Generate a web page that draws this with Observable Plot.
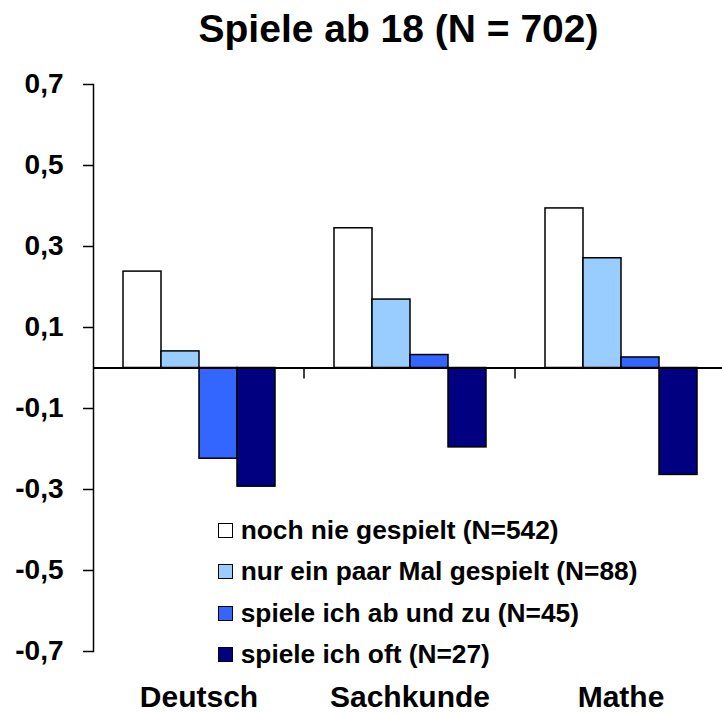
<!DOCTYPE html>
<html>
<head>
<meta charset="utf-8">
<script src="https://cdn.jsdelivr.net/npm/d3@7"></script>
<script src="https://cdn.jsdelivr.net/npm/@observablehq/plot@0.6"></script>
<style>
  body { margin: 0; background: #fff; font-family: "Liberation Sans", Arial, sans-serif; }
  #wrap { position: relative; width: 722px; height: 713px; overflow: hidden; background: #fff; }
  #title { height: 58px; line-height: 58px; font-size: 39px; font-weight: bold; text-align: center; padding-left: 75px; box-sizing: border-box; width: 722px; color: #000; white-space: nowrap; }
  #legend { position: absolute; left: 218px; top: 510px; }
  .row { height: 41.3px; display: flex; align-items: center; }
  .sw { width: 15px; height: 15px; border: 1px solid #000; box-sizing: border-box; margin-right: 7.7px; flex: none; }
  .lab { font-size: 26.3px; font-weight: bold; white-space: nowrap; color: #000; }
</style>
</head>
<body>
<div id="wrap">
  <div id="title">Spiele ab 18 (N = 702)</div>
  <div id="chart"></div>
  <div id="legend"></div>
</div>
<script>
// ---- data ----
const subjects = ["Deutsch", "Sachkunde", "Mathe"];
const seriesNames = [
  "noch nie gespielt (N=542)",
  "nur ein paar Mal gespielt (N=88)",
  "spiele ich ab und zu (N=45)",
  "spiele ich oft (N=27)"
];
const seriesColors = ["#FFFFFF", "#99CCFF", "#3366FF", "#000080"];
const nieGespieltValues   = [0.238, 0.345, 0.394];
const paarMalValues       = [0.041, 0.169, 0.271];
const abUndZuValues       = [-0.224, 0.032, 0.026];
const oftValues           = [-0.293, -0.196, -0.264];
const yTicks = [-0.7, -0.5, -0.3, -0.1, 0.1, 0.3, 0.5, 0.7];

const seriesValues = [nieGespieltValues, paarMalValues, abUndZuValues, oftValues];
const data = [];
subjects.forEach((s, i) => {
  seriesNames.forEach((n, j) => {
    data.push({subject: s, series: n, value: seriesValues[j][i]});
  });
});

const fmt = d => d.toFixed(1).replace(".", ",");

const chart = Plot.plot({
  width: 722,
  height: 655,
  marginTop: 26,
  marginBottom: 62,
  marginLeft: 93,
  marginRight: -4,
  style: { fontFamily: "'Liberation Sans', Arial, sans-serif", color: "#000", background: "#fff", overflow: "visible" },
  fx: { domain: subjects, padding: 0 },
  x: { domain: seriesNames, paddingInner: 0, paddingOuter: 0.712, axis: null },
  y: { domain: [-0.7, 0.7] },
  color: { domain: seriesNames, range: seriesColors },
  marks: [
    Plot.barY(data, { fx: "subject", x: "series", y: "value", fill: "series", stroke: "#000", strokeWidth: 1.5 }),
    Plot.ruleY([0], { stroke: "#000", strokeWidth: 2 }),
    Plot.frame({ anchor: "left", facetAnchor: "left", stroke: "#000", strokeWidth: 1.5 }),
    Plot.axisY({ ticks: yTicks, tickFormat: fmt, tickSize: 10, tickPadding: 20, fontSize: 28, fontWeight: "bold", strokeWidth: 1.5, label: null, anchor: "left" }),
    Plot.axisFx({ anchor: "bottom", tickSize: 0, tickPadding: 34, fontSize: 30, fontWeight: "bold", label: null })
  ]
});
document.getElementById("chart").appendChild(chart);

// group boundary tick marks on the zero line, from the library's scales
const fxs = chart.scale("fx");
const ys = chart.scale("y");
const y0 = ys.apply(0);
const g = d3.select(chart).append("g").attr("stroke", "#000").attr("stroke-width", 1.5);
subjects.forEach(s => {
  const xr = fxs.apply(s) + fxs.bandwidth;
  g.append("line").attr("x1", xr).attr("x2", xr).attr("y1", y0).attr("y2", y0 + 11);
});

// legend
const legend = d3.select("#legend");
seriesNames.forEach((n, i) => {
  const row = legend.append("div").attr("class", "row");
  row.append("div").attr("class", "sw").style("background", seriesColors[i]);
  row.append("div").attr("class", "lab").text(n);
});
</script>
</body>
</html>
